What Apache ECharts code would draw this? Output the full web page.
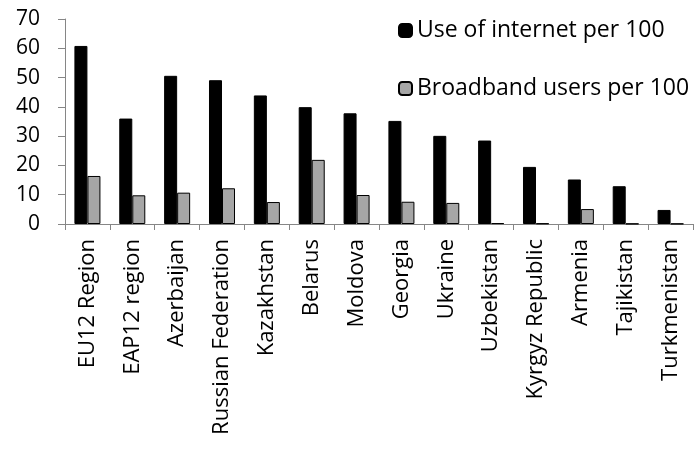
<!DOCTYPE html>
<html>
<head>
<meta charset="utf-8">
<script src="https://cdn.jsdelivr.net/npm/echarts@6/dist/echarts.min.js"></script>
<style>
  html, body { margin: 0; padding: 0; background: #fff; }
  #chart { width: 700px; height: 450px; }
</style>
</head>
<body>
<div id="chart"></div>
<script>
// Internet and broadband use per 100 people
const categories = ['EU12 Region', 'EAP12 region', 'Azerbaijan', 'Russian Federation', 'Kazakhstan',
  'Belarus', 'Moldova', 'Georgia', 'Ukraine', 'Uzbekistan', 'Kyrgyz Republic', 'Armenia',
  'Tajikistan', 'Turkmenistan'];
const internetUse = [60.8, 36.0, 50.6, 49.1, 43.9, 39.9, 37.8, 35.2, 30.1, 28.5, 19.5, 15.2, 12.9, 4.8];
const broadbandUse = [16.4, 9.8, 10.7, 12.2, 7.5, 21.9, 9.9, 7.6, 7.2, 0.3, 0.2, 5.1, 0.1, 0.1];
const seriesNames = ['Use of internet per 100', 'Broadband users per 100'];

const FONT = '"Open Sans"';
const chart = echarts.init(document.getElementById('chart'));
chart.setOption({
  animation: false,
  textStyle: { fontFamily: FONT, color: '#000' },
  grid: { left: 65, right: 7, top: 19, bottom: 226 },
  legend: [
    {
      data: [seriesNames[0]], left: 393, top: 14, itemWidth: 13, itemHeight: 13, itemGap: 9,
      textStyle: { fontFamily: FONT, fontSize: 23, color: '#000' }
    },
    {
      data: [seriesNames[1]], left: 393, top: 72, itemWidth: 13, itemHeight: 13, itemGap: 9,
      textStyle: { fontFamily: FONT, fontSize: 23, color: '#000' }
    }
  ],
  xAxis: {
    type: 'category',
    data: categories,
    axisLine: { lineStyle: { color: '#868686', width: 1 } },
    axisTick: { show: true, length: 6, inside: false, lineStyle: { color: '#868686' } },
    axisLabel: { rotate: 90, fontSize: 22, color: '#000', margin: 15, fontFamily: FONT }
  },
  yAxis: {
    type: 'value',
    min: 0, max: 70, interval: 10,
    splitLine: { show: false },
    axisLine: { show: true, lineStyle: { color: '#868686', width: 1 } },
    axisTick: { show: true, length: 7, lineStyle: { color: '#868686' } },
    axisLabel: { fontSize: 21, color: '#000', margin: 25, fontFamily: FONT }
  },
  series: [
    {
      name: seriesNames[0], type: 'bar', data: internetUse,
      barGap: '0%', barCategoryGap: '42%',
      itemStyle: { color: '#000', borderColor: '#000', borderWidth: 1 }
    },
    {
      name: seriesNames[1], type: 'bar', data: broadbandUse,
      itemStyle: { color: '#a6a6a6', borderColor: '#000', borderWidth: 1 }
    }
  ]
});
</script>
</body>
</html>
